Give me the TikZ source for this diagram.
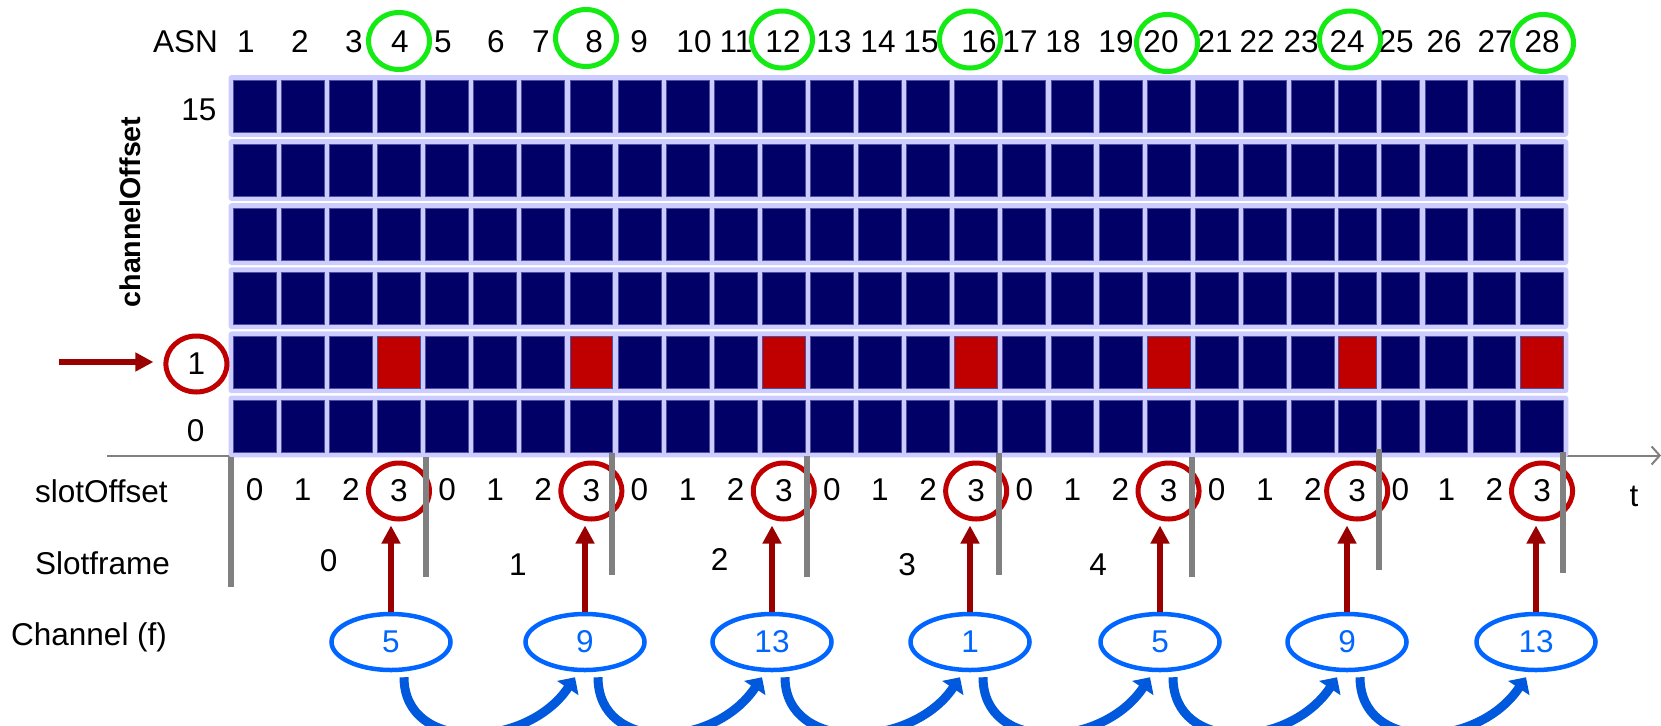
\documentclass[tikz,border=0pt]{standalone}
\usepackage{fontspec}
\setmainfont{Liberation Sans}
\usetikzlibrary{shapes.geometric,arrows.meta}
\definecolor{slotnavy}{RGB}{0,0,102}
\definecolor{slotlav}{RGB}{204,204,255}
\definecolor{slotedge}{RGB}{80,80,160}
\definecolor{slotred}{RGB}{192,0,0}
\definecolor{arrowred}{RGB}{153,0,0}
\definecolor{asngreen}{RGB}{20,235,20}
\definecolor{chanblue}{RGB}{0,102,255}
\definecolor{hopblue}{RGB}{0,88,220}
\definecolor{axisgray}{RGB}{128,128,128}

\tikzset{
  lbl/.style={anchor=base, inner sep=0pt},
  slotcell/.style={draw=slotedge, line width=0.8pt, minimum height=52.3pt, inner sep=0pt},
  redring/.style={ellipse, draw=slotred, line width=5pt, minimum width=61pt, minimum height=56pt, inner sep=0pt},
  greenring/.style={ellipse, draw=asngreen, line width=5pt, minimum width=61pt, minimum height=57pt, inner sep=0pt},
  chanring/.style={ellipse, draw=chanblue, text=chanblue, line width=4.5pt, minimum width=119pt, minimum height=56pt, inner sep=0pt},
  feedarrow/.style={draw=arrowred, line width=6pt, -{Triangle[length=18pt,width=18pt]}},
  hoparrow/.style={draw=hopblue, line width=9pt, -{Triangle[length=13pt,width=25pt]}},
  framesep/.style={draw=axisgray, line width=6pt},
  axisline/.style={draw=axisgray, line width=2pt, -{Straight Barb[length=8pt,width=18pt]}}
}

\newcommand{\slotcolumn}[3]{%
  \foreach \r in {0,...,5}{%
    \pgfmathtruncatemacro{\isred}{(\r==4)&&(mod(#1,4)==0)}%
    \ifnum\isred=1 \def\cellfill{slotred}\else\def\cellfill{slotnavy}\fi
    \node[slotcell, fill=\cellfill, minimum width=#3] (c-\r-#1) at ({#2+#3/2},{106.15+64.1*\r}) {};
  }%
  \pgfmathtruncatemacro{\so}{mod(#1-1,4)}%
  \ifnum\so=3
    \node[redring] (so-#1) at ({#2+#3/2},491) {3};
  \else
    \node[lbl] (so-#1) at ({#2+#3/2},500) {\so};
  \fi
}

\begin{document}
\begin{tikzpicture}[x=1pt, y=-1pt, every node/.style={font=\fontsize{31.5}{36}\selectfont}]
  \useasboundingbox (0,0) rectangle (1661,725);
  \clip (0,0) rectangle (1661,725);

  \coordinate (axisstart) at (107,455.5);
  \coordinate (axisend) at (1661,455.5);
  \draw[axisline] (axisstart) -- (axisend);

  \foreach \r in {0,...,5}
    \fill[slotlav, rounded corners=3pt] (228.6,{75+64.1*\r}) rectangle (1568.3,{136.8+64.1*\r});
  \foreach \k in {1,...,23}{
    \pgfmathsetmacro{\xl}{233.2+48.1*(\k-1)}
    \slotcolumn{\k}{\xl}{42.9}
  }
  \foreach \k/\xl/\w in {24/1338/38.3, 25/1381/38.5, 26/1425/42.5, 27/1473.2/42.5, 28/1520.8/42.5}{
    \slotcolumn{\k}{\xl}{\w}
  }

  \foreach \x/\ya/\yb in {231/457/587, 425.5/457/577, 612/453/575, 807/456/577,
                          999/453/575, 1192/457/577, 1379/449/570, 1563/452/573}
    \draw[framesep] (\x,\ya) -- (\x,\yb);

  \node[lbl, anchor=base west] (asnlbl) at (153,52.7) {ASN};
  \foreach \n/\x in {1/246, 2/300, 3/354, 4/400, 5/443, 6/496, 7/541, 8/594, 9/639, 10/694,
                     11/736, 12/783, 13/834, 14/878, 15/921, 16/979, 17/1020, 18/1063, 19/1116,
                     20/1161, 21/1215, 22/1257, 23/1301, 24/1347, 25/1396, 26/1444, 27/1495, 28/1542}
    \node[lbl] (asn\n) at (\x,52.7) {\n};
  \foreach \n/\x/\y in {4/399/41, 8/586/38, 12/782/39.5, 16/970/39.5, 20/1167/43, 24/1350/39.5, 28/1543/43}
    \node[greenring] (ring\n) at (\x,\y) {};

  \node[font=\bfseries\fontsize{28.6}{34}\selectfont, rotate=90] (choff) at (130,212) {channelOffset};
  \node[lbl] (row15) at (199,120) {15};
  \node[redring] (row1) at (196.4,364) {1};
  \node[lbl] (row0) at (195.6,441.7) {0};
  \coordinate (feedstart) at (59,362);
  \draw[feedarrow, shorten >=10pt] (feedstart) -- (feedstart -| row1.west);

  \node[lbl, anchor=base west] (solbl) at (35,502.7) {slotOffset};
  \node[lbl, anchor=base west] (sflbl) at (35,574) {Slotframe};
  \node[lbl, anchor=base west] (chlbl) at (11,645) {Channel (f)};
  \node[lbl] (tlbl) at (1634,506.5) {t};
  \foreach \n/\x/\y in {0/328.6/571.7, 1/518/575, 2/719.6/570.7, 3/907/575, 4/1098/575}
    \node[lbl] (sf\n) at (\x,\y) {\n};

  \foreach \i/\x/\f in {1/391/5, 2/585/9, 3/772/13, 4/970/1, 5/1160/5, 6/1347/9, 7/1536/13}
    \node[chanring] (ch\i) at (\x,642) {\f};
  \foreach \i/\k in {1/4, 2/8, 3/12, 4/16, 5/20, 6/24, 7/28}
    \draw[feedarrow, shorten >=4pt] (ch\i.north) -- (ch\i.north |- so-\k.south);
  \foreach \i [evaluate=\i as \j using int(\i+1)] in {1,...,6}
    \draw[hoparrow] ([xshift=13pt,yshift=-5pt]ch\i.south) .. controls +(0,76) and +(-48,72) .. ([xshift=-10pt,yshift=-5pt]ch\j.south);
\end{tikzpicture}
\end{document}
